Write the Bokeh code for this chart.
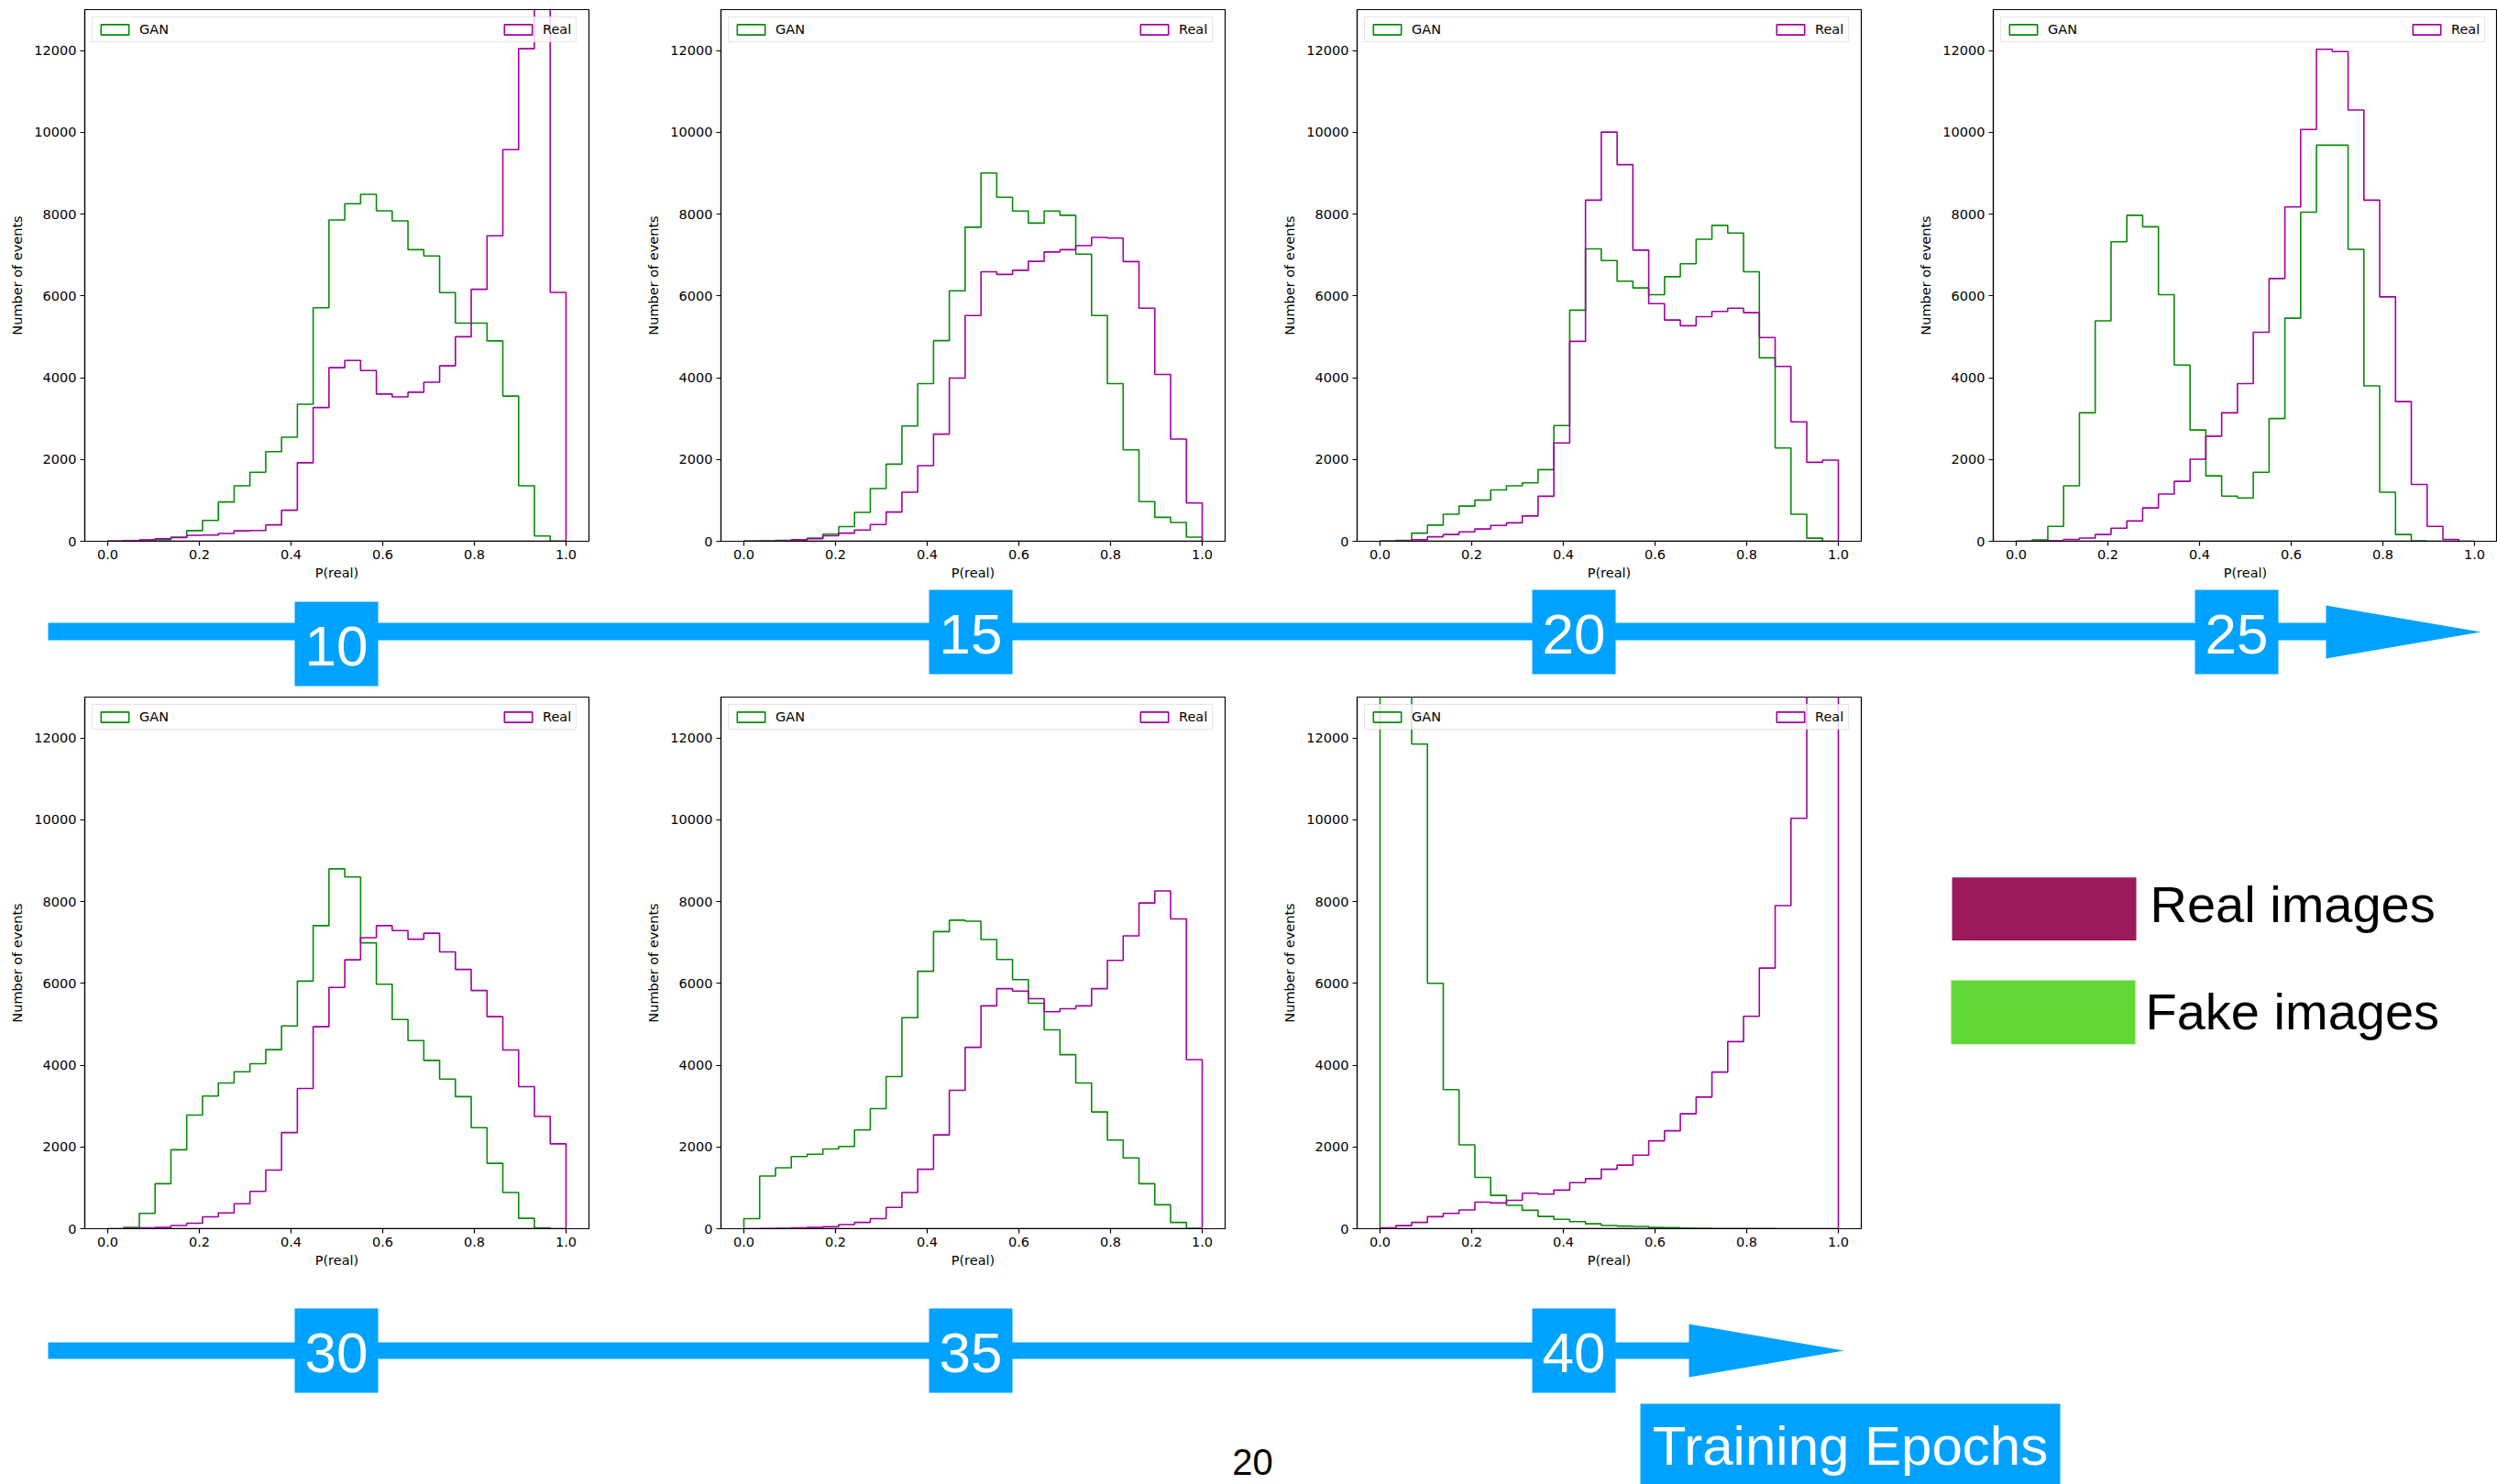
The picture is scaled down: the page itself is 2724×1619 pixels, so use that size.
import numpy as np
from bokeh.plotting import figure
from bokeh.layouts import row, column
from bokeh.models import (Range1d, FixedTicker, PrintfTickFormatter, BasicTickFormatter,
                          Legend, LegendItem)
from bokeh.core.properties import value
from bokeh.embed import file_html
from bokeh.resources import INLINE

# ---------------- data ----------------
n_bins = 29
bin_edges = np.linspace(0.0, 1.0, n_bins + 1)

epochs = [10, 15, 20, 25, 30, 35, 40]

gan_10 = [5, 15, 25, 40, 100, 260, 510, 960, 1355, 1685, 2190, 2545, 3350, 5710, 7855,
          8255, 8485, 8080, 7835, 7130, 6975, 6080, 5335, 5335, 4900, 3550, 1355, 130, 5]
real_10 = [5, 15, 30, 60, 90, 145, 150, 190, 255, 265, 400, 760, 1920, 3270, 4245,
           4420, 4175, 3600, 3530, 3645, 3890, 4290, 5000, 6160, 7470, 9575, 12045, 17000, 6085]

gan_15 = [5, 10, 20, 40, 75, 175, 360, 705, 1290, 1885, 2820, 3855, 4905, 6125, 7680,
          9005, 8410, 8075, 7780, 8075, 7970, 7020, 5520, 3855, 2235, 970, 585, 460, 100]
real_15 = [3, 5, 10, 30, 60, 135, 200, 275, 410, 715, 1200, 1850, 2620, 3990, 5520,
           6590, 6525, 6625, 6845, 7075, 7130, 7230, 7430, 7415, 6840, 5700, 4080, 2500, 935]

gan_20 = [5, 20, 200, 395, 660, 860, 1005, 1255, 1355, 1430, 1750, 2830, 5650, 7150, 6865,
          6360, 6195, 6030, 6470, 6785, 7385, 7725, 7535, 6590, 4485, 2280, 660, 75, 0]
real_20 = [3, 10, 40, 110, 165, 230, 300, 385, 450, 620, 1100, 2405, 4890, 8340, 10005,
           9210, 7120, 5810, 5410, 5270, 5490, 5620, 5700, 5590, 4980, 4275, 2920, 1930, 1985]

gan_25 = [3, 30, 365, 1355, 3140, 5390, 7325, 7970, 7690, 6030, 4310, 2720, 1600, 1105, 1060,
          1685, 3000, 5455, 8045, 9685, 9685, 7140, 3800, 1200, 165, 10, 0, 0, 0]
real_25 = [0, 5, 15, 45, 80, 165, 320, 495, 815, 1155, 1465, 2005, 2570, 3140, 3855,
           5110, 6425, 8175, 10070, 12030, 11975, 10545, 8340, 5975, 3415, 1390, 365, 45, 0]

gan_30 = [0, 35, 375, 1100, 1930, 2780, 3245, 3565, 3840, 4035, 4380, 4960, 6055, 7410, 8800,
          8600, 6990, 5980, 5115, 4600, 4115, 3660, 3230, 2470, 1600, 885, 255, 20, 0]
real_30 = [0, 10, 20, 35, 80, 135, 290, 385, 610, 915, 1435, 2350, 3430, 4940, 5900,
           6575, 7115, 7410, 7290, 7080, 7225, 6770, 6340, 5825, 5185, 4370, 3475, 2745, 2075]

gan_35 = [245, 1290, 1490, 1765, 1820, 1950, 2010, 2415, 2935, 3720, 5160, 6295, 7265, 7545, 7520,
          7070, 6585, 6090, 5515, 4865, 4255, 3565, 2855, 2170, 1730, 1100, 585, 155, 10]
real_35 = [0, 5, 10, 20, 35, 50, 100, 155, 245, 520, 885, 1455, 2295, 3385, 4435,
           5450, 5870, 5810, 5625, 5305, 5380, 5450, 5870, 6560, 7160, 7965, 8260, 7575, 4135]

gan_40 = [30000, 18000, 11850, 6000, 3400, 2050, 1255, 815, 570, 450, 300, 230, 175, 120, 80,
          65, 55, 35, 25, 15, 10, 7, 5, 3, 2, 1, 1, 0, 0]
real_40 = [20, 75, 155, 295, 375, 460, 650, 630, 695, 870, 845, 945, 1125, 1225, 1455,
           1555, 1800, 2150, 2395, 2810, 3220, 3830, 4575, 5195, 6375, 7900, 10035, 17000, 40000]

gan_by_epoch = {10: gan_10, 15: gan_15, 20: gan_20, 25: gan_25, 30: gan_30, 35: gan_35, 40: gan_40}
real_by_epoch = {10: real_10, 15: real_15, 20: real_20, 25: real_25, 30: real_30, 35: real_35, 40: real_40}

x_ticks = [0.0, 0.2, 0.4, 0.6, 0.8, 1.0]
y_ticks = [0, 2000, 4000, 6000, 8000, 10000, 12000]
series_labels = ["GAN", "Real"]
legend_labels = ["Real images", "Fake images"]
axis_title_x = "P(real)"
axis_title_y = "Number of events"
arrow_title = "Training Epochs"
page_number = "20"

# ---------------- style ----------------
GREEN = "#088a08"
PURPLE = "#a000a0"
BLUE = "#00a2ff"
REAL_SWATCH = "#9a1a5c"
FAKE_SWATCH = "#62d836"
MPL_FONT = "DejaVu Sans"
SLIDE_FONT = "Liberation Sans"
FS = "14.5px"


def step_path(counts):
    c = np.asarray(counts, dtype=float)
    xs = np.repeat(bin_edges, 2)
    ys = np.concatenate([[0.0], np.repeat(c, 2), [0.0]])
    return xs, ys


def panel(epoch, width, border_right, border_top, height):
    p = figure(width=width, height=height,
               x_range=Range1d(-0.05, 1.05), y_range=Range1d(0, 13000),
               output_backend="svg", toolbar_location=None,
               min_border_left=92, min_border_right=border_right,
               min_border_top=border_top, min_border_bottom=52)
    p.grid.visible = False
    p.outline_line_color = "black"
    p.outline_line_width = 1.2
    p.background_fill_color = "white"

    xg, yg = step_path(gan_by_epoch[epoch])
    xr, yr = step_path(real_by_epoch[epoch])
    rg = p.patch(xg, yg, fill_color=None, line_color=GREEN, line_width=1.6)
    rr = p.patch(xr, yr, fill_color=None, line_color=PURPLE, line_width=1.6)

    for ax in (p.xaxis[0], p.yaxis[0]):
        ax.major_tick_out = 5
        ax.major_tick_in = 0
        ax.minor_tick_out = 0
        ax.minor_tick_in = 0
        ax.major_tick_line_color = "black"
        ax.major_tick_line_width = 1.2
        ax.axis_line_color = "black"
        ax.axis_line_width = 1.2
        ax.major_label_text_font = MPL_FONT
        ax.major_label_text_font_size = FS
        ax.major_label_text_color = "black"
        ax.major_label_standoff = 4
        ax.axis_label_text_font = MPL_FONT
        ax.axis_label_text_font_size = FS
        ax.axis_label_text_font_style = "normal"
        ax.axis_label_text_color = "black"

    p.xaxis.ticker = FixedTicker(ticks=x_ticks)
    p.xaxis.formatter = PrintfTickFormatter(format="%.1f")
    p.yaxis.ticker = FixedTicker(ticks=y_ticks)
    p.yaxis.formatter = BasicTickFormatter(use_scientific=False)
    p.xaxis.axis_label = axis_title_x
    p.yaxis.axis_label = axis_title_y
    p.xaxis.axis_label_standoff = 4
    p.yaxis.axis_label_standoff = 7

    legend = Legend(items=[LegendItem(label=series_labels[0], renderers=[rg]),
                           LegendItem(label=series_labels[1], renderers=[rr])],
                    orientation="horizontal", location="top_left",
                    margin=8, padding=5, spacing=362,
                    glyph_width=38, glyph_height=14, label_standoff=8,
                    label_text_font=MPL_FONT, label_text_font_size=FS,
                    label_text_color="black",
                    border_line_color="#cccccc", border_line_width=1,
                    background_fill_color="white", background_fill_alpha=0.8)
    p.add_layout(legend)
    return p


def canvas(width, height, x0, x1, y_top, y_bot):
    c = figure(width=width, height=height,
               x_range=Range1d(x0, x1), y_range=Range1d(y_bot, y_top),
               output_backend="svg", toolbar_location=None,
               x_axis_type=None, y_axis_type=None, min_border=0)
    c.outline_line_color = None
    c.grid.visible = False
    return c


def epoch_boxes(c, labels, lefts, tops, box_w, box_h):
    lefts = np.asarray(lefts, dtype=float)
    tops = np.asarray(tops, dtype=float)
    c.quad(left=lefts, right=lefts + box_w, top=tops, bottom=tops + box_h,
           fill_color=BLUE, line_color=None)
    c.text(x=lefts + box_w / 2, y=tops + box_h / 2 + 2, text=[str(e) for e in labels],
           text_align="center", text_baseline="middle",
           text_font=value(SLIDE_FONT), text_font_size="62px", text_color="white")


# ---------------- row 1 ----------------
row1 = row(
    panel(10, 694, 52, 10, 642),
    panel(15, 694, 52, 10, 642),
    panel(20, 694, 52, 10, 642),
    panel(25, 642, 0, 10, 642),
)

# ---------------- arrow band 1 ----------------
band1 = canvas(2724, 110, 0, 2724, 642, 752)
band1.quad(left=[52], right=[2540], top=[679], bottom=[698], fill_color=BLUE, line_color=None)
band1.patch(x=[2537, 2706, 2537], y=[660, 689, 718], fill_color=BLUE, line_color=None)
epoch_boxes(band1, epochs[0:1], [321], [656], 91, 92)
epoch_boxes(band1, epochs[1:4], [1013, 1671, 2394], [643, 643, 643], 91, 92)

# ---------------- row 2 ----------------
leg = canvas(642, 640, 2082, 2724, 752, 1392)
leg.quad(left=[2129], right=[2330], top=[969], bottom=[1045], fill_color=REAL_SWATCH, line_color=None)
leg.quad(left=[2128], right=[2329], top=[1093], bottom=[1170], fill_color=FAKE_SWATCH, line_color=None)
leg.text(x=[2345, 2340], y=[1001, 1131], text=legend_labels, text_align="left",
         text_baseline="alphabetic", text_font=value(SLIDE_FONT), text_font_size="56px",
         text_color="black")

row2 = row(
    panel(30, 694, 52, 8, 640),
    panel(35, 694, 52, 8, 640),
    panel(40, 694, 52, 8, 640),
    leg,
)

# ---------------- arrow band 2 ----------------
band2 = canvas(2724, 227, 0, 2724, 1392, 1619)
band2.quad(left=[52], right=[1845], top=[1464], bottom=[1482], fill_color=BLUE, line_color=None)
band2.patch(x=[1842, 2011, 1842], y=[1444, 1473, 1502], fill_color=BLUE, line_color=None)
epoch_boxes(band2, epochs[4:7], [321, 1013, 1671], [1427, 1427, 1427], 91, 92)
band2.quad(left=[1789], right=[2247], top=[1531], bottom=[1619], fill_color=BLUE, line_color=None)
band2.text(x=[2018], y=[1577], text=[arrow_title], text_align="center", text_baseline="middle",
           text_font=value(SLIDE_FONT), text_font_size="60px", text_color="white")
band2.text(x=[1366], y=[1594], text=[page_number], text_align="center", text_baseline="middle",
           text_font=value(SLIDE_FONT), text_font_size="40px", text_color="black")

page = column(row1, band1, row2, band2)

open("out.html", "w").write(file_html(page, INLINE))
